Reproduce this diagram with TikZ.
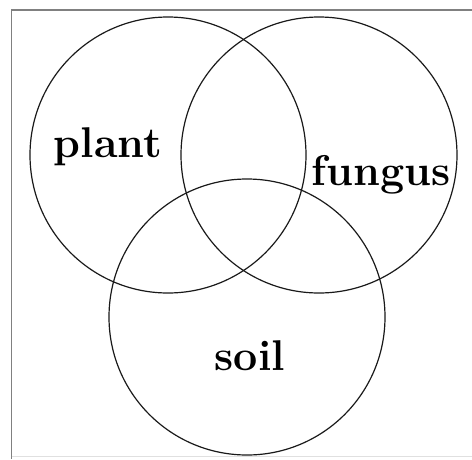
\documentclass[tikz,border=0pt]{standalone}
\begin{document}
\begin{tikzpicture}[x=1pt,y=-1pt,
  setc/.style={draw=black!90,line width=1.2pt},
  lbl/.style={anchor=base,font=\fontsize{43}{43}\selectfont\bfseries},
  frame/.style={draw=black!50,line width=1.1pt}]
\useasboundingbox (0,0) rectangle (472,459);
\fill[white] (0,0) rectangle (472,459);
\draw[frame] (472,10) -- (11.5,10) -- (11.5,459);
\draw[draw=black!12,line width=0.8pt] (11.5,456) -- (472,456);
\node[setc,circle,minimum size=276pt,inner sep=0pt] (plant) at (168,155) {};
\node[setc,circle,minimum size=276pt,inner sep=0pt] (fungus) at (319,155) {};
\node[setc,circle,minimum size=276pt,inner sep=0pt] (soil) at (247,317) {};
\node[lbl] (tplant) at (108,157) {plant};
\node[lbl] (tfungus) at (381,185) {fungus};
\node[lbl] (tsoil) at (250,370) {soil};
\end{tikzpicture}
\end{document}
